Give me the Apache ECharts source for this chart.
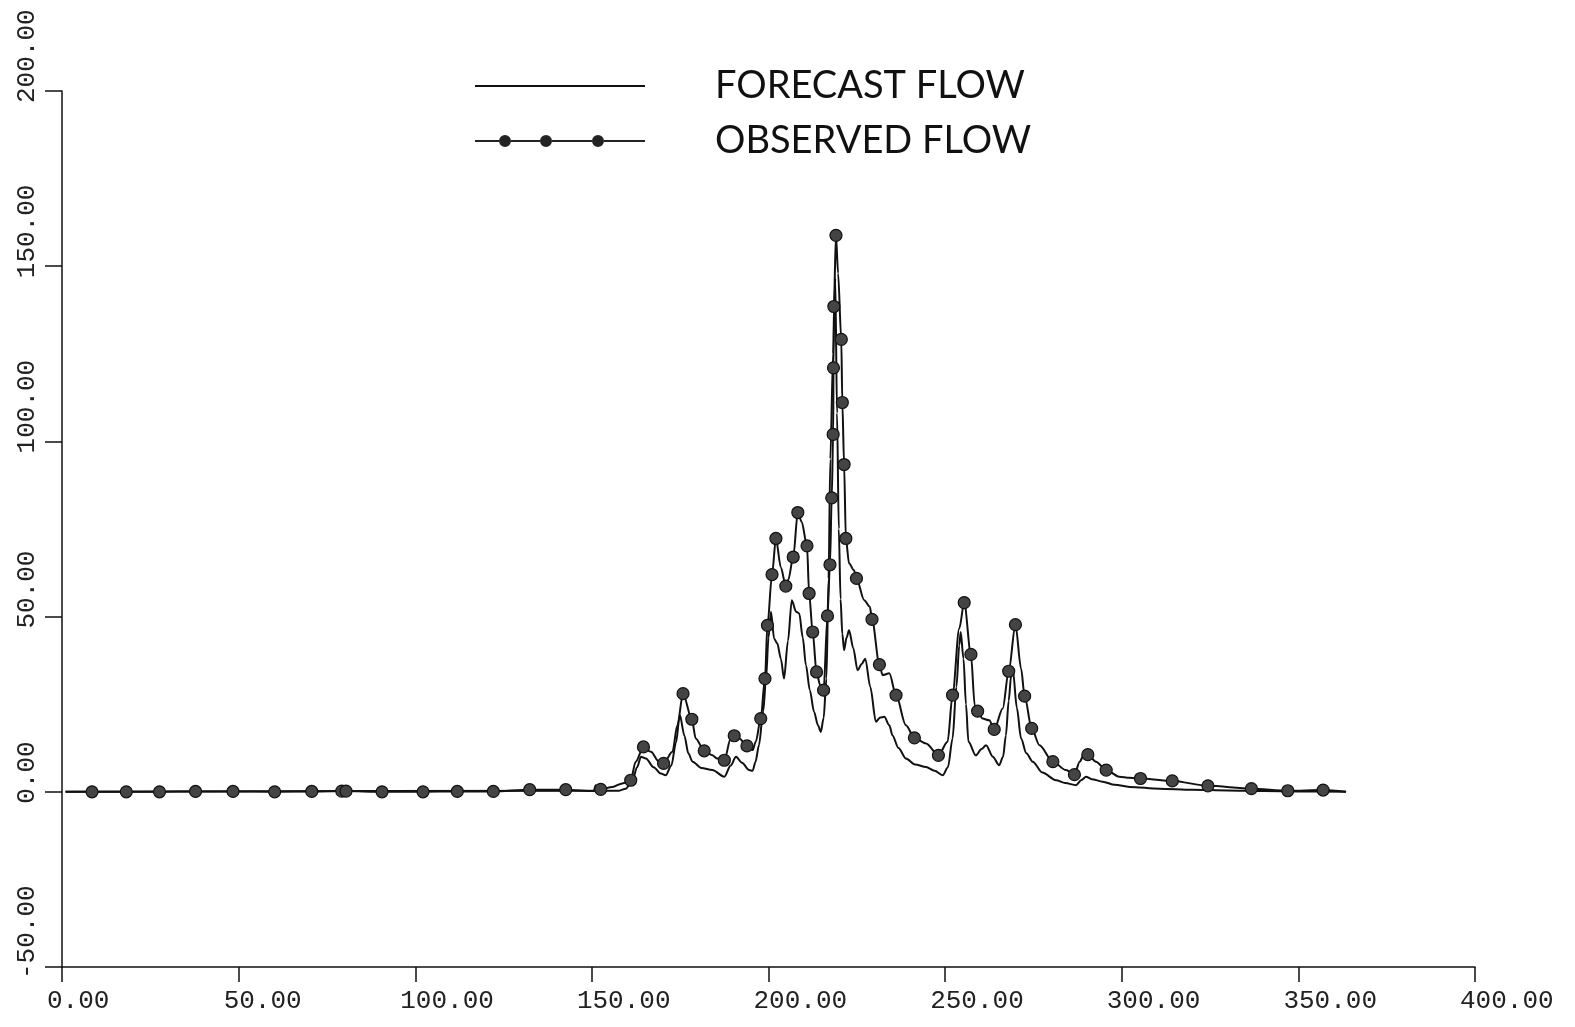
<!DOCTYPE html>
<html>
<head>
<meta charset="utf-8">
<script src="https://cdn.jsdelivr.net/npm/echarts@6/dist/echarts.min.js"></script>
<style>
html,body{margin:0;padding:0;background:#fff}
#chart{width:1575px;height:1027px}
</style>
</head>
<body>
<div id="chart"></div>
<script>
// forecast flow, [day, flow]
const forecast = [[1,0],[157.7,0.3],[159.6,0.9],[161.5,3.3],[162.8,7],[163.9,10],[165.3,9.5],[167.5,7],[169.5,5.2],[170.9,4.7],
  [172.5,7.5],[173.8,14],[174.9,21.9],[176.2,16],[177.3,11],[178.5,8.6],[181,6.8],[184.1,6.2],[187.5,4.3],[189.3,7.5],
  [190.8,10],[192.5,8.3],[194.5,6.2],[195.5,6],[196.3,8.5],[197.3,13.3],[198.5,23],[199.3,32.3],[200,44],[200.7,51.4],
  [201.6,43.7],[202.5,42.3],[203.5,38],[204.4,32.3],[205.5,43],[206.6,54.7],[207.8,51.4],[208.7,50.9],[209.7,44],[210.6,36.1],
  [211.7,29],[212.9,22.8],[214,19],[214.8,17.1],[215.6,21],[216.4,32.3],[217,60.9],[217.5,95],[218.3,125],[218.9,146.5],
  [219.4,108],[219.9,75],[220.4,55],[220.9,45],[221.4,40.4],[222.1,44],[222.8,46.1],[224,41],[225.2,34.7],[226.4,36.5],
  [227.4,38],[228.8,30],[230.4,20],[231.6,21.2],[232.8,21.4],[234.2,19],[235.1,16.1],[236.8,12.5],[238.9,9.5],[241.5,7.8],
  [244.6,7.1],[247,6],[249.3,4.7],[250.8,7],[252.1,15.2],[253.2,30],[254,41.8],[254.4,45.6],[255.2,38],[255.9,25],
  [256.6,14.3],[258.7,10.4],[260.3,12.2],[261.6,13.3],[263.5,10],[265.3,7.6],[266.4,10],[267.2,16.1],[268,26],[268.7,33.3],
  [269.2,34.5],[270.3,24],[271.5,15.2],[273,11],[274.8,8.6],[277.5,5.5],[281.4,3.3],[284,2.5],[287.1,1.9],[288.5,3.3],
  [289.9,4.3],[291.5,3.6],[294.6,2.9],[298,2],[302.2,1.4],[310.7,0.9],[320,0.6],[330,0.4],[340,0.2],[350,0.1],[363.5,0]];

// observed flow: measured samples (plotted with a dot)
const observed = [[8.5,0],[18.2,0],[27.6,0],[37.8,0.1],[48.4,0.1],[60.2,0],[70.7,0.1],[79.2,0.2],[80.4,0.2],[90.6,0],
  [102.2,0],[111.9,0.1],[122.1,0.1],[132.4,0.6],[142.6,0.6],[152.5,0.7],[161,3.3],[164.6,12.8],[170.3,8.1],[175.8,28],
  [178.3,20.7],[181.8,11.7],[187.5,9],[190.3,16],[193.9,13.1],[197.8,20.9],[199,32.3],[199.7,47.5],[201,62],[202.1,72.3],
  [204.9,58.7],[207,67],[208.3,79.7],[210.9,70.2],[211.5,56.6],[212.5,45.6],[213.6,34.2],[215.6,29],[216.7,50.2],[217.4,64.8],
  [217.9,83.9],[218.3,102],[218.4,121],[218.5,138.5],[219.1,158.8],[220.6,129.1],[220.9,111.1],[221.4,93.4],[221.9,72.3],[224.9,60.9],
  [229.3,49.2],[231.4,36.3],[236.1,27.6],[241.3,15.4],[248.1,10.4],[252.1,27.6],[255.4,54],[257.3,39.2],[259.2,23],[263.9,17.8],
  [268,34.4],[269.9,47.7],[272.5,27.3],[274.5,18.1],[280.5,8.6],[286.6,4.9],[290.4,10.6],[295.6,6.2],[305.3,3.8],[314.3,3.1],
  [324.4,1.7],[336.7,0.9],[347,0.3],[357,0.5]];

// observed flow: pen line between the samples (no dot)
const observedTrace = [[1,0],[150.5,0.2],[151.1,1.9],[151.7,0.5],[155.8,1.4],[158.6,2.4],[162.4,8.6],[166.7,11.4],[169,8.6],
  [172.8,11.4],[174.2,19],[179.4,15.2],[184.1,10.4],[185.5,9.5],[189.3,15.2],[191.7,15.2],[195.5,11.9],[196.4,14.3],[203.5,64],
  [205.6,60.5],[209.4,77],[214.6,30.5],[219.7,148],[222.8,65.2],[224.2,63.2],[227.1,54.7],[228.7,52.8],[232.3,33.3],[234.2,33.8],
  [238.9,19],[244.6,13.8],[250.7,14.3],[254,46.6],[258.4,24.5],[260.6,20.9],[262.5,20.4],[266.3,23.8],[271.5,35.2],[276.7,13.3],
  [284.2,6.2],[288.1,8.6],[289.2,10.4],[292.7,8.6],[299.3,4.3],[302.2,4],[363.5,0]];

const seriesNames = ['FORECAST FLOW', 'OBSERVED FLOW'];

let observedLine = observed.map(p => ({value: p}))
    .concat(observedTrace.map(p => ({value: p, symbol: 'none'})));
observedLine.sort((a, b) => a.value[0] - b.value[0]);

const tickFont = {fontFamily: 'Liberation Mono', fontSize: 26, color: '#222'};
const fmt = v => v.toFixed(2);

// legend icons: plain pen line / pen line with three dots
const dot = cx => 'M' + (cx - 6) + ',6a6,6 0 1,0 12,0a6,6 0 1,0 -12,0Z';
const iconPlain = 'path://M0,0H170V2H0Z';
const iconDots = 'path://M0,5H24V7H0Z M36,5H65V7H36Z M77,5H117V7H77Z M129,5H170V7H129Z '
    + dot(30) + ' ' + dot(71) + ' ' + dot(123);

let option = {
    backgroundColor: '#fff',
    animation: false,
    grid: {left: 62, right: 100, top: 91, bottom: 60, outerBoundsMode: 'none'},
    legend: {
        orient: 'vertical',
        left: 470,
        top: 56,
        itemWidth: 170,
        itemHeight: 12,
        itemGap: 5,
        symbolKeepAspect: true,
        selectedMode: false,
        itemStyle: {borderWidth: 0},
        textStyle: {fontFamily: 'Lato', fontSize: 38, color: '#111', lineHeight: 40, padding: [0, 0, 10, 65]},
        data: [
            {name: seriesNames[0], icon: iconPlain, itemStyle: {color: '#111'}},
            {name: seriesNames[1], icon: iconDots, itemStyle: {color: '#222'}}
        ]
    },
    xAxis: {
        type: 'value',
        min: 0,
        max: 400,
        interval: 50,
        splitLine: {show: false},
        axisLine: {onZero: false, lineStyle: {color: '#111', width: 1.5}},
        axisTick: {length: 15, lineStyle: {color: '#111', width: 1.5}},
        axisLabel: Object.assign({formatter: fmt, align: 'left', verticalAlign: 'top', margin: 21, padding: [0, 0, 0, -15]}, tickFont)
    },
    yAxis: {
        type: 'value',
        min: -50,
        max: 200,
        interval: 50,
        splitLine: {show: false},
        axisLine: {show: true, onZero: false, lineStyle: {color: '#111', width: 1.5}},
        axisTick: {show: true, length: 17, lineStyle: {color: '#111', width: 1.5}},
        axisLabel: Object.assign({formatter: fmt, rotate: 90, align: 'left', verticalAlign: 'middle', margin: 35, padding: [0, 0, 0, -12]}, tickFont)
    },
    series: [{
        name: seriesNames[0],
        type: 'line',
        data: forecast,
        symbol: 'none',
        smooth: 0.3,
        smoothMonotone: 'x',
        lineStyle: {color: '#111', width: 2},
        itemStyle: {color: '#111'}
    }, {
        name: seriesNames[1],
        type: 'line',
        data: observedLine,
        symbol: 'circle',
        symbolSize: 12,
        smooth: 0.3,
        smoothMonotone: 'x',
        lineStyle: {color: '#111', width: 2},
        itemStyle: {color: '#444', borderColor: '#111', borderWidth: 1.2}
    }]
};

let chart = echarts.init(document.getElementById('chart'));
chart.setOption(option);
</script>
</body>
</html>
